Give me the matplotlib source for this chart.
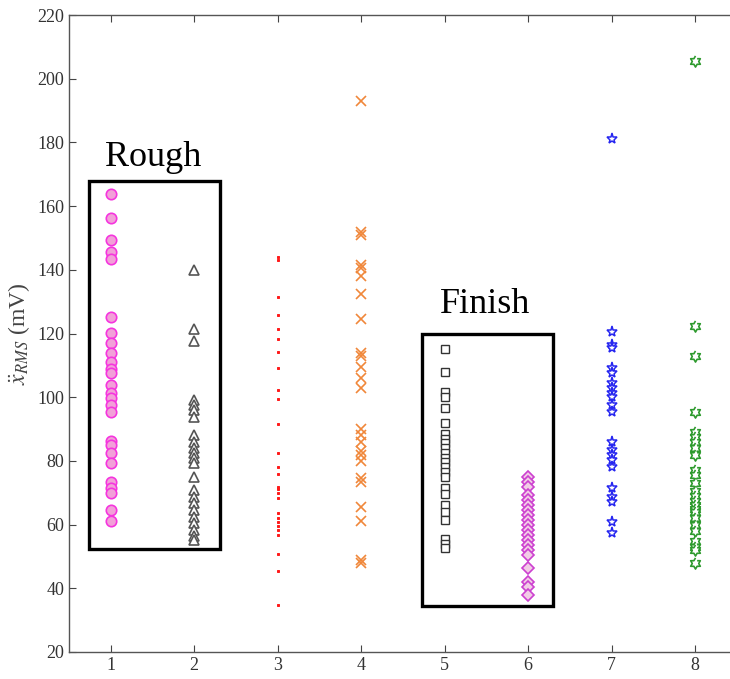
import numpy as np
import matplotlib.pyplot as plt
from matplotlib.patches import Rectangle

plt.rcParams['mathtext.fontset'] = 'stix'

# values (mV)
g1 = [163.7, 156.4, 149.4, 145.7, 143.3, 125.2, 120.1, 116.9, 114.0, 111.1, 108.8, 107.7,
      103.8, 101.4, 99.6, 97.6, 95.3, 86.3, 85.0, 82.6, 79.4, 73.5, 71.4, 69.8, 64.6, 61.2]
g2 = [140.1, 121.5, 117.8, 99.0, 97.4, 95.9, 93.8, 88.1, 86.0, 83.9, 82.4, 80.8, 79.2,
      75.0, 70.9, 68.8, 66.7, 64.6, 62.5, 60.4, 58.3, 56.4, 55.3]
g3 = [144.1, 143.1, 131.4, 125.8, 121.3, 118.3, 114.3, 109.1, 102.3, 99.4, 91.6, 82.4,
      78.2, 75.9, 71.9, 71.1, 69.8, 68.3, 63.5, 62.2, 60.8, 59.6, 58.3, 56.8, 50.7, 45.5, 34.8]
g4 = [193.1, 152.0, 151.0, 141.5, 140.5, 138.0, 132.5, 124.5, 114.0, 113.0, 109.5, 106.0,
      103.0, 90.0, 88.0, 86.0, 83.0, 82.0, 80.0, 74.5, 73.5, 65.5, 61.0, 49.0, 48.0]
g5 = [115.0, 108.0, 101.5, 100.0, 96.5, 92.0, 88.5, 87.0, 85.5, 84.0, 82.5, 81.0, 79.5,
      78.0, 76.5, 75.0, 71.5, 69.5, 66.0, 64.0, 61.5, 55.5, 54.0, 52.5]
g6 = [75.0, 73.5, 71.9, 69.3, 67.7, 66.2, 64.6, 63.0, 61.4, 59.9, 58.3, 56.7, 55.2, 53.6,
      52.0, 50.5, 46.3, 42.1, 40.5, 37.8]
g7 = [181.0, 120.6, 116.4, 115.3, 109.1, 107.5, 104.4, 102.8, 101.2, 100.2, 97.6, 95.5,
      86.0, 83.4, 81.9, 80.3, 78.2, 71.4, 68.8, 67.2, 60.9, 57.3]
g8 = [205.7, 122.5, 113.0, 95.5, 89.0, 87.5, 86.0, 84.0, 82.0, 77.0, 75.5, 73.0, 70.5,
      69.0, 67.5, 66.0, 65.0, 64.0, 62.0, 60.0, 58.0, 55.0, 53.0, 52.0, 48.0]
groups = [g1, g2, g3, g4, g5, g6, g7, g8]

# six-pointed star like MATLAB 'hexagram'
ang = np.pi / 2 + np.arange(12) * np.pi / 6
rad = np.where(np.arange(12) % 2 == 0, 1.0, 0.58)
hexagram = list(zip(rad * np.cos(ang), rad * np.sin(ang)))

styles = [
    dict(marker='o', ms=7.5, mfc='#f2a0d8', mec='#f535de', mew=1.2),
    dict(marker='^', ms=7.5, mfc='white', mec='#555555', mew=1.2),
    dict(marker='s', ms=2.0, mfc='#ff1a1a', mec='#ff1a1a', mew=0.7),
    dict(marker='x', ms=7, mfc='none', mec='#f0873a', mew=1.2),
    dict(marker='s', ms=5.5, mfc='white', mec='#333333', mew=1.0),
    dict(marker='D', ms=6.5, mfc='#f2cce6', mec='#cc40d0', mew=1.2),
    dict(marker='*', ms=8, mfc='white', mec='#2626f0', mew=1.1),
    dict(marker=hexagram, ms=8, mfc='white', mec='#2e9a2e', mew=1.2),
]

fig = plt.figure(figsize=(7.3, 6.79), dpi=100)
ax = fig.add_axes([0.0945, 0.0398, 0.915, 0.938])

for i, (vals, st) in enumerate(zip(groups, styles), start=1):
    ax.plot(np.full(len(vals), i), vals, linestyle='none', **st)

ax.set_xlim(0.5, 8.5)
ax.set_ylim(20, 220)
ax.set_xticks(range(1, 9))
ax.set_yticks(range(20, 221, 20))
ax.tick_params(direction='in', top=True, right=False, length=5, width=0.8,
               colors='#444444', labelsize=13, labelcolor='#333333')
for lab in ax.get_xticklabels() + ax.get_yticklabels():
    lab.set_family('Liberation Serif')
for sp in ax.spines.values():
    sp.set_color('#555555')
    sp.set_linewidth(1.0)
ax.spines['right'].set_visible(False)

ax.set_ylabel(r'$\ddot{x}_{RMS}$ (mV)', family='Liberation Serif', fontsize=17,
              color='#444444', labelpad=4)

# group boxes
ax.add_patch(Rectangle((0.736, 52.3), 2.31 - 0.736, 167.9 - 52.3, fill=False,
                       lw=2.4, ec='black'))
ax.add_patch(Rectangle((4.733, 34.4), 6.294 - 4.733, 119.8 - 34.4, fill=False,
                       lw=2.4, ec='black'))
ax.text(0.93, 172.5, 'Rough', family='Liberation Serif', fontsize=26, va='baseline')
ax.text(4.94, 126.4, 'Finish', family='Liberation Serif', fontsize=26, va='baseline')

fig.savefig('out.png', dpi=100, facecolor='white')
